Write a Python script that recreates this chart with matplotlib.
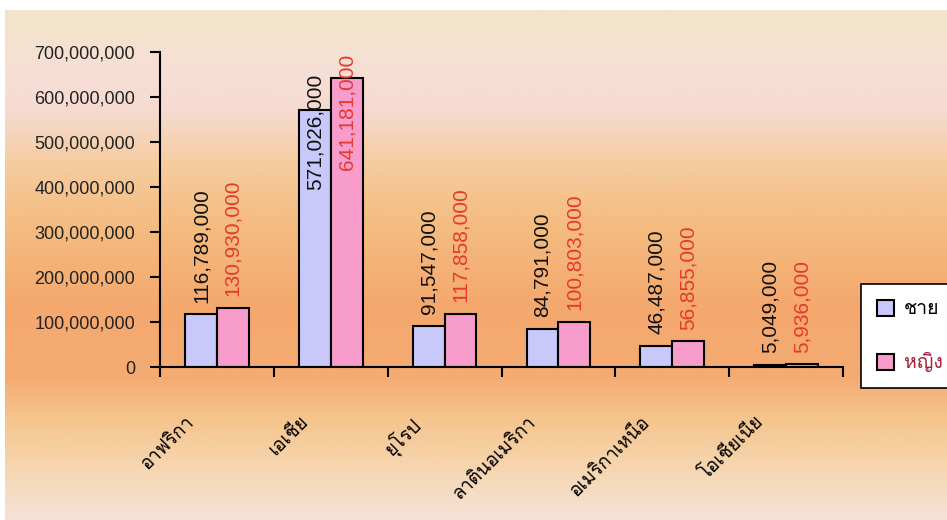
import numpy as np
import matplotlib
matplotlib.use("Agg")
import matplotlib.pyplot as plt
from matplotlib import font_manager
from matplotlib.ft2font import FT2Font
from matplotlib.colors import LinearSegmentedColormap
from matplotlib.transforms import ScaledTranslation
from matplotlib.ticker import FuncFormatter

# ประชากรแยกตามเพศ รายทวีป
regions = ["อาฟริกา", "เอเชีย", "ยุโรป", "ลาตินอเมริกา", "อเมริกาเหนือ", "โอเชียเนีย"]
male = [116789000, 571026000, 91547000, 84791000, 46487000, 5049000]
female = [130930000, 641181000, 117858000, 100803000, 56855000, 5936000]
series_names = ["ชาย", "หญิง"]
yticks = [0, 100000000, 200000000, 300000000, 400000000, 500000000, 600000000, 700000000]


def thai_family():
    # look for any installed font that has Thai glyphs
    for f in font_manager.fontManager.ttflist:
        try:
            cmap = FT2Font(f.fname).get_charmap()
        except Exception:
            continue
        if 0x0E0A in cmap and 0x0E22 in cmap:
            return f.name
    return "DejaVu Sans"


thai = thai_family()
plt.rcParams["font.family"] = ["Liberation Sans", thai, "DejaVu Sans"]

fig = plt.figure(figsize=(9.47, 5.2), dpi=100)
fig.patch.set_facecolor("white")

# background gradient panel
bg = fig.add_axes([5 / 947, 0, 1, 1 - 10 / 520], zorder=-10)
stops = [(0.0, "#f3e4c8"), (0.12, "#f6dfd6"), (0.2, "#f6dad0"), (0.3, "#f5cca0"),
         (0.42, "#f5bc80"), (0.58, "#f4a86e"), (0.72, "#f4ab72"), (0.8, "#f6c48c"),
         (0.9, "#f6d6b0"), (1.0, "#f5e2d8")]
cmap = LinearSegmentedColormap.from_list("bg", stops)
bg.imshow(np.linspace(0, 1, 256).reshape(-1, 1), aspect="auto", cmap=cmap,
          extent=[0, 1, 0, 1])
bg.set_axis_off()

ax = fig.add_axes([160 / 947, 1 - 367 / 520, (843 - 160) / 947, (367 - 52) / 520])
ax.set_facecolor("none")

x = np.arange(len(regions))
w = 0.28
b1 = ax.bar(x - w / 2, male, w, color="#c8c8fa", edgecolor="black", linewidth=1.5,
            label=series_names[0])
b2 = ax.bar(x + w / 2, female, w, color="#f79ccb", edgecolor="black", linewidth=1.5,
            label=series_names[1])

# value labels, pushed down inside the bar when there is no room above
top = 695000000
for bars, vals, col in [(b1, male, "#111111"), (b2, female, "#e5392b")]:
    for rect, v in zip(bars, vals):
        cx = rect.get_x() + rect.get_width() / 2
        txt = f"{v:,}"
        if v + 200000000 > top:
            ax.text(cx, min(v + 80000000, top), txt, rotation=90, ha="center", va="top",
                    fontsize=15, color=col, clip_on=False)
        else:
            ax.annotate(txt, (cx, v), xytext=(0, 8.5), textcoords="offset points",
                        rotation=90, ha="center", va="bottom", fontsize=15, color=col)

ax.set_xlim(-0.5, len(regions) - 0.5)
ax.set_ylim(0, 700000000)
ax.set_yticks(yticks)
ax.yaxis.set_major_formatter(FuncFormatter(lambda v, p: f"{int(v):,}"))
ax.tick_params(axis="y", length=7, width=1.5, labelsize=13, pad=11, colors="black",
               labelcolor="#222222")

ax.set_xticks(np.arange(len(regions) + 1) - 0.5)
ax.set_xticklabels([])
ax.tick_params(axis="x", which="major", length=7, width=1.5)
ax.set_xticks(x, minor=True)
ax.set_xticklabels(regions, minor=True, rotation=45, ha="right", va="top",
                   fontsize=13.5, family=[thai, "DejaVu Sans"])
ax.tick_params(axis="x", which="minor", length=0, pad=33)
shift = ScaledTranslation(-0.19, 0, fig.dpi_scale_trans)
for lab in ax.get_xticklabels(minor=True):
    lab.set_transform(lab.get_transform() + shift)

for s in ["top", "right"]:
    ax.spines[s].set_visible(False)
for s in ["left", "bottom"]:
    ax.spines[s].set_linewidth(1.5)

leg = fig.legend(handles=[b1, b2], loc="upper left",
                 bbox_to_anchor=(861 / 947, 1 - 284 / 520), borderaxespad=0,
                 frameon=True, fancybox=False, edgecolor="black", facecolor="white",
                 framealpha=1, handlelength=0.9, handleheight=0.9, labelspacing=1.75,
                 borderpad=0.8, handletextpad=0.5,
                 prop={"family": [thai, "DejaVu Sans"], "size": 14})
leg.get_frame().set_linewidth(1.2)
leg.get_texts()[1].set_color("#a8203a")

fig.savefig("out.png", dpi=100)
